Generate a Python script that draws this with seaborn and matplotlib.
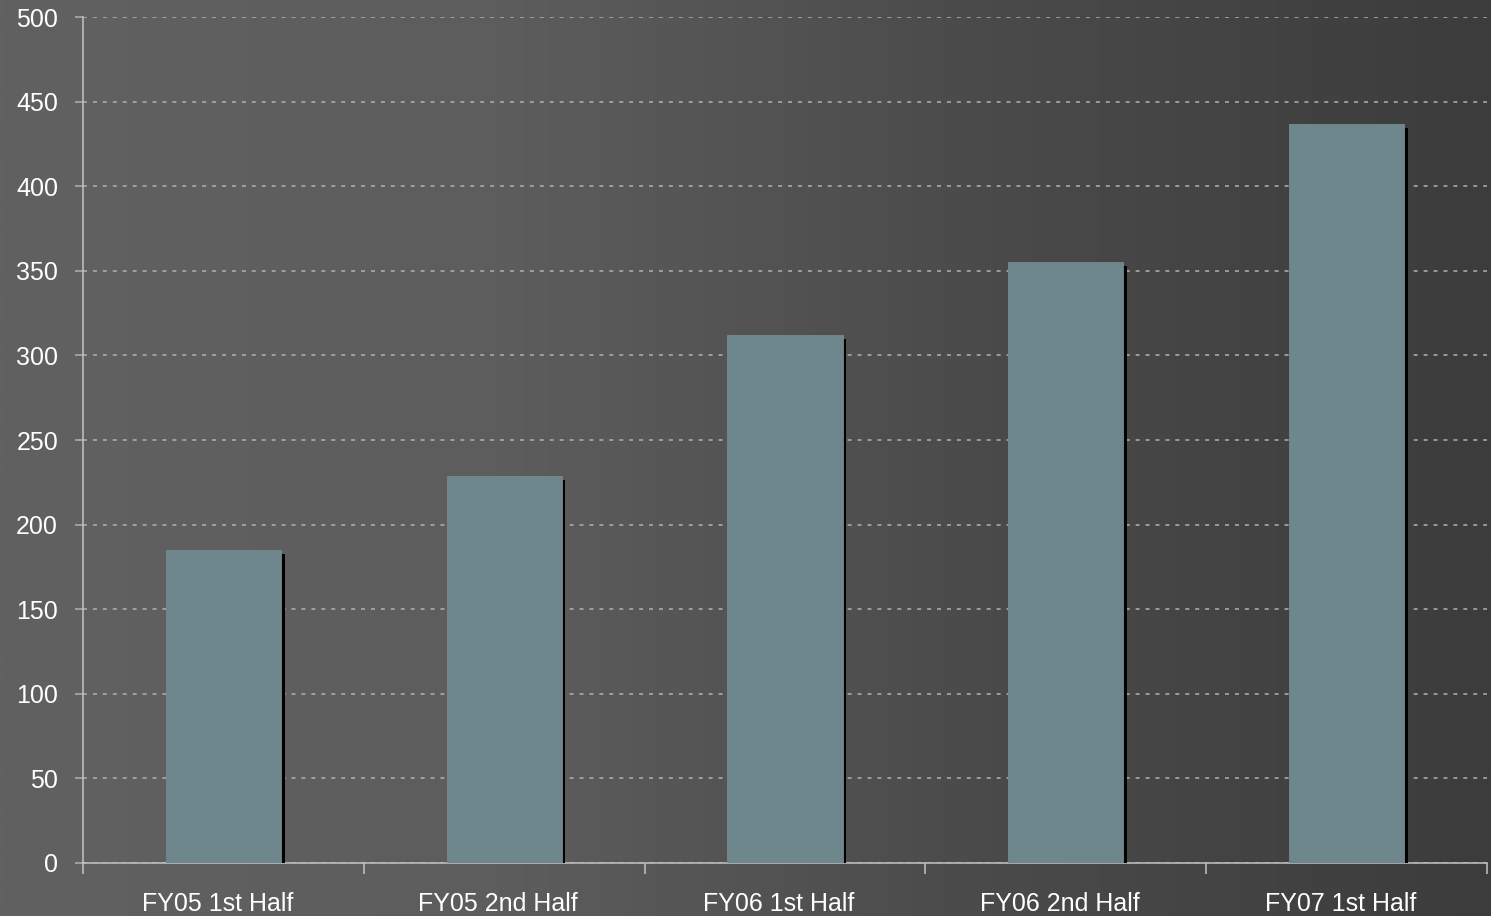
import numpy as np
import pandas as pd
import matplotlib
matplotlib.use("Agg")
import matplotlib.pyplot as plt
import matplotlib.patheffects as pe
import matplotlib.transforms as mtransforms
from matplotlib.colors import LinearSegmentedColormap
import seaborn as sns

# Half-year figures
periods = ["FY05 1st Half", "FY05 2nd Half", "FY06 1st Half", "FY06 2nd Half", "FY07 1st Half"]
values = [185, 229, 312, 355, 437]
y_ticks = [0, 50, 100, 150, 200, 250, 300, 350, 400, 450, 500]

sns.set_theme(style="white")
plt.rcParams["font.family"] = ["Liberation Sans", "DejaVu Sans"]

fig = plt.figure(figsize=(14.91, 9.16), dpi=100)

# Horizontal grey gradient behind everything
bg = fig.add_axes([0, 0, 1, 1], zorder=0)
bg_cmap = LinearSegmentedColormap.from_list("bg", ["#616161", "#5d5d5d", "#4a4a4a", "#3c3c3c"])
bg.imshow(np.linspace(0, 1, 512)[None, :], aspect="auto", cmap=bg_cmap,
          extent=[0, 1, 0, 1])
bg.set_axis_off()

ax = fig.add_axes([0.0557, 0.0579, 0.9416, 0.9235], zorder=1)
ax.set_facecolor("none")

df = pd.DataFrame({"period": periods, "value": values})
sns.barplot(data=df, x="period", y="value", color="#6e878d", saturation=1,
            width=0.41, ax=ax, zorder=3)

for bar in ax.patches:
    bar.set_edgecolor("#76898e")
    bar.set_linewidth(0.6)
    bar.set_path_effects([
        pe.SimplePatchShadow(offset=(2.6, -2.9), shadow_rgbFace="black", alpha=1.0),
        pe.Normal(),
    ])

ax.set_xlim(-0.5, len(periods) - 0.5)
ax.set_ylim(0, 500)
ax.set_yticks(y_ticks)
ax.set_xlabel("")
ax.set_ylabel("")

grid_color = "#b2b2b2"
ax.yaxis.grid(True, color=grid_color, linewidth=1.1, linestyle=(0, (2.6, 3.9)), zorder=1)
ax.set_axisbelow(True)

for side in ("top", "right"):
    ax.spines[side].set_visible(False)
for side in ("left", "bottom"):
    ax.spines[side].set_color("#c4c4c4")
    ax.spines[side].set_linewidth(1.1)

ax.tick_params(axis="y", which="major", direction="out", length=6, width=1.1,
               color=grid_color, left=True, labelsize=18, labelcolor="white", pad=12)
ax.tick_params(axis="x", which="major", length=0, labelsize=18, labelcolor="white", pad=21)
ax.set_xticks(np.arange(-0.5, len(periods)), minor=True)
ax.tick_params(axis="x", which="minor", direction="out", length=8, width=1.1,
               color="#c4c4c4", bottom=True)

# Category labels sit slightly left of the bar centres
shift = mtransforms.ScaledTranslation(-6 / 100, 0, fig.dpi_scale_trans)
for lab in ax.get_xticklabels():
    lab.set_transform(lab.get_transform() + shift)

fig.savefig("out.png", dpi=100)
